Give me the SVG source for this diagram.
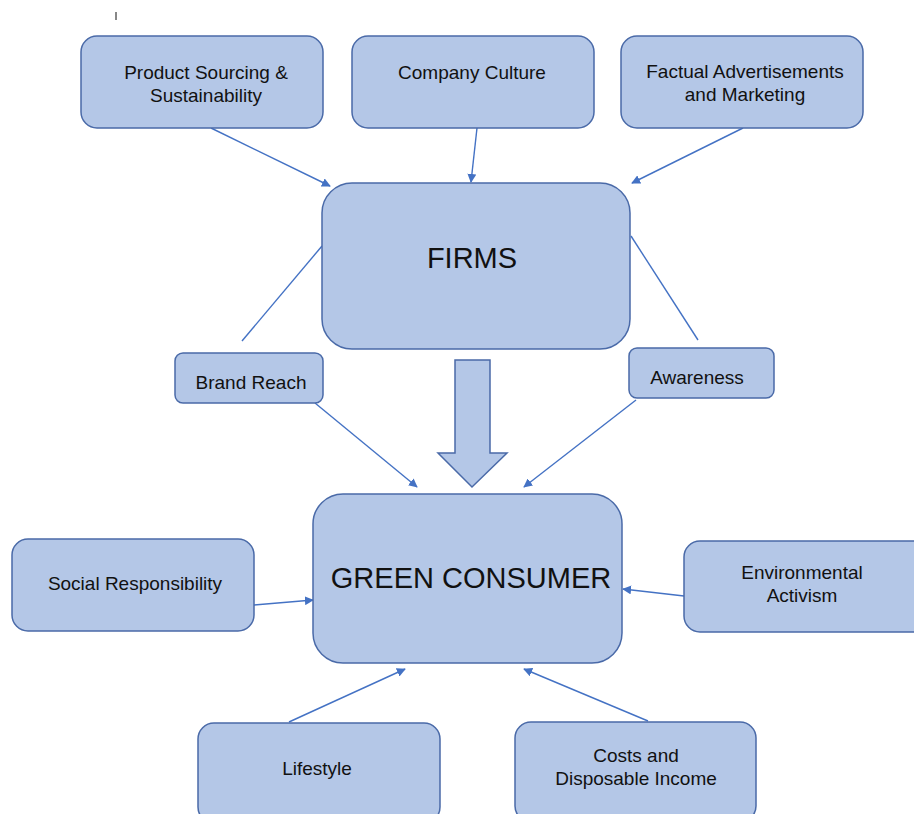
<svg xmlns="http://www.w3.org/2000/svg" width="914" height="814" viewBox="0 0 914 814">
  <defs>
    <marker id="ah" viewBox="0 0 10 10" refX="9" refY="5" markerWidth="9" markerHeight="9" orient="auto" markerUnits="userSpaceOnUse">
      <path d="M0,0 L10,5 L0,10 Z" fill="#4472c4"/>
    </marker>
    <style>
      .box { fill: #b4c7e7; stroke: #4a6aa8; stroke-width: 1.5; }
      .lbl { font-family: "Liberation Sans", Arial, sans-serif; font-size: 19px; fill: #111; text-anchor: middle; dominant-baseline: central; }
      .big { font-family: "Liberation Sans", Arial, sans-serif; font-size: 29px; fill: #111; text-anchor: middle; dominant-baseline: central; }
      .conn { stroke: #4472c4; stroke-width: 1.4; fill: none; }
    </style>
  </defs>
  <rect width="914" height="814" fill="#ffffff"/>
  <line x1="116" y1="12" x2="116" y2="20" stroke="#111" stroke-width="1"/>

  <g id="connectors">
    <line class="conn" x1="211" y1="128" x2="330" y2="186" marker-end="url(#ah)"/>
    <line class="conn" x1="477" y1="128" x2="471" y2="182" marker-end="url(#ah)"/>
    <line class="conn" x1="743" y1="128" x2="632" y2="183" marker-end="url(#ah)"/>
    <line class="conn" x1="242" y1="341" x2="322" y2="246"/>
    <line class="conn" x1="698" y1="340" x2="631" y2="236"/>
    <line class="conn" x1="315" y1="403" x2="417" y2="487" marker-end="url(#ah)"/>
    <line class="conn" x1="636" y1="400" x2="524" y2="487" marker-end="url(#ah)"/>
    <line class="conn" x1="254" y1="605" x2="313" y2="600" marker-end="url(#ah)"/>
    <line class="conn" x1="684" y1="596" x2="623" y2="589" marker-end="url(#ah)"/>
    <line class="conn" x1="289" y1="722" x2="405" y2="669" marker-end="url(#ah)"/>
    <line class="conn" x1="648" y1="721" x2="524" y2="669" marker-end="url(#ah)"/>
    <path id="flow-arrow" class="box" d="M455,360 L490,360 L490,453 L507,453 L472,487 L438,453 L455,453 Z"/>
  </g>

  <g id="product-sourcing">
    <rect class="box" x="81" y="36" width="242" height="92" rx="16"/>
    <text class="lbl" x="206" y="72">Product Sourcing &amp;</text>
    <text class="lbl" x="206" y="95">Sustainability</text>
  </g>
  <g id="company-culture">
    <rect class="box" x="352" y="36" width="242" height="92" rx="16"/>
    <text class="lbl" x="472" y="72">Company Culture</text>
  </g>
  <g id="factual-ads">
    <rect class="box" x="621" y="36" width="242" height="92" rx="16"/>
    <text class="lbl" x="745" y="71">Factual Advertisements</text>
    <text class="lbl" x="745" y="94">and Marketing</text>
  </g>
  <g id="firms">
    <rect class="box" x="322" y="183" width="308" height="166" rx="30"/>
    <text class="big" x="472" y="258">FIRMS</text>
  </g>
  <g id="brand-reach">
    <rect class="box" x="175" y="353" width="148" height="50" rx="8"/>
    <text class="lbl" x="251" y="382">Brand Reach</text>
  </g>
  <g id="awareness">
    <rect class="box" x="629" y="348" width="145" height="50" rx="8"/>
    <text class="lbl" x="697" y="377">Awareness</text>
  </g>
  <g id="green-consumer">
    <rect class="box" x="313" y="494" width="309" height="169" rx="30"/>
    <text class="big" x="471" y="578">GREEN CONSUMER</text>
  </g>
  <g id="social-responsibility">
    <rect class="box" x="12" y="539" width="242" height="92" rx="16"/>
    <text class="lbl" x="135" y="583">Social Responsibility</text>
  </g>
  <g id="environmental-activism">
    <rect class="box" x="684" y="541" width="245" height="91" rx="16"/>
    <text class="lbl" x="802" y="572">Environmental</text>
    <text class="lbl" x="802" y="595">Activism</text>
  </g>
  <g id="lifestyle">
    <rect class="box" x="198" y="723" width="242" height="100" rx="16"/>
    <text class="lbl" x="317" y="768">Lifestyle</text>
  </g>
  <g id="costs-income">
    <rect class="box" x="515" y="722" width="241" height="100" rx="16"/>
    <text class="lbl" x="636" y="755">Costs and</text>
    <text class="lbl" x="636" y="778">Disposable Income</text>
  </g>
</svg>
